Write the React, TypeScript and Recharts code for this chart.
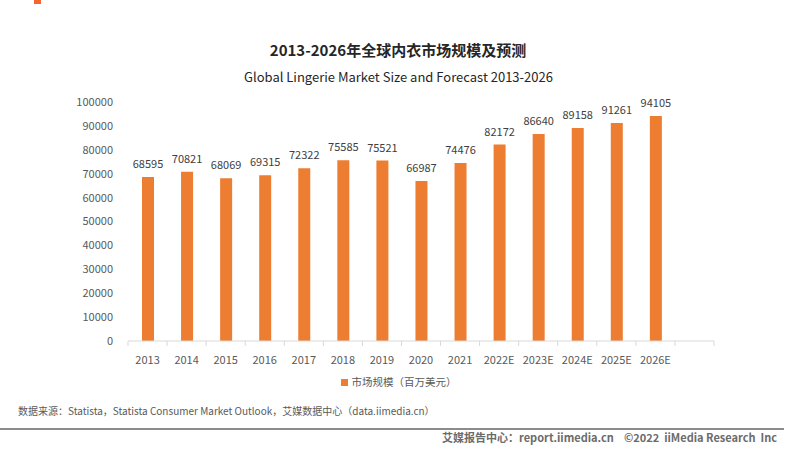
import { BarChart, Bar, XAxis, YAxis, LabelList } from 'recharts';

const YEARS = [
  '2013', '2014', '2015', '2016', '2017', '2018', '2019', '2020', '2021',
  '2022E', '2023E', '2024E', '2025E', '2026E', '',
];
const MARKET_SIZE: (number | null)[] = [
  68595, 70821, 68069, 69315, 72322, 75585, 75521, 66987, 74476,
  82172, 86640, 89158, 91261, 94105, null,
];
const Y_TICKS = [0, 10000, 20000, 30000, 40000, 50000, 60000, 70000, 80000, 90000, 100000];

const SERIES_NAME = '市场规模（百万美元）';
const BAR_COLOR = '#ED7D31';
const TEXT_GRAY = '#595959';
const FONT = '"Noto Sans CJK SC", "Noto Sans", sans-serif';

const data = YEARS.map((name, i) => ({ name, value: MARKET_SIZE[i] }));

function XTick(props: any) {
  const { x, y, payload, index } = props;
  const half = payload?.offset ?? 19.5;
  const isLast = index === YEARS.length - 1;
  return (
    <g>
      <line x1={x - half} x2={x - half} y1={y - 8} y2={y - 3} stroke="#d9d9d9" />
      {isLast && <line x1={x + half} x2={x + half} y1={y - 8} y2={y - 3} stroke="#d9d9d9" />}
      <text x={x} y={y + 15} textAnchor="middle" fontSize={11} fill={TEXT_GRAY} fontFamily={FONT}>
        {payload.value}
      </text>
    </g>
  );
}

function ValueLabel(props: any) {
  const { x, y, width, value } = props;
  if (value === null || value === undefined) return null;
  return (
    <text x={x + width / 2} y={y - 9} textAnchor="middle" fontSize={11} fill="#404040" fontFamily={FONT}>
      {value}
    </text>
  );
}

export default function App() {
  return (
    <div style={{ position: 'absolute', top: 0, left: 0, width: 793, height: 451, background: '#fff', fontFamily: FONT }}>
      <div style={{ position: 'absolute', left: 34, top: 0, width: 7, height: 4, background: '#F5652D' }} />
      <div style={{ position: 'absolute', top: 39, width: 796, textAlign: 'center', fontSize: 15, fontWeight: 'bold', color: '#262626', lineHeight: '22px' }}>
        2013-2026年全球内衣市场规模及预测
      </div>
      <div style={{ position: 'absolute', top: 67, width: 797, textAlign: 'center', fontSize: 13, color: '#262626', lineHeight: '20px' }}>
        Global Lingerie Market Size and Forecast 2013-2026
      </div>
      <BarChart
        width={793}
        height={451}
        data={data}
        margin={{ top: 102, right: 79, left: 0, bottom: 80 }}
        style={{ position: 'absolute', top: 0, left: 0 }}
      >
        <XAxis
          dataKey="name"
          height={30}
          interval={0}
          tickLine={false}
          axisLine={{ stroke: '#d9d9d9' }}
          tick={<XTick />}
        />
        <YAxis
          width={128}
          domain={[0, 100000]}
          ticks={Y_TICKS}
          interval={0}
          axisLine={false}
          tickLine={false}
          tick={{ fontSize: 11, fill: TEXT_GRAY, fontFamily: FONT }}
          tickMargin={9}
        />
        <Bar dataKey="value" name={SERIES_NAME} fill={BAR_COLOR} barSize={12} isAnimationActive={false}>
          <LabelList dataKey="value" content={<ValueLabel />} />
        </Bar>
      </BarChart>
      <div style={{ position: 'absolute', top: 374, left: 0, width: 793, display: 'flex', justifyContent: 'center', alignItems: 'center', fontSize: 10.5, color: TEXT_GRAY, lineHeight: '16px' }}>
        <span style={{ display: 'inline-block', width: 7, height: 7, background: BAR_COLOR, marginRight: 4, marginLeft: 4 }} />
        <span>{SERIES_NAME}</span>
      </div>
      <div style={{ position: 'absolute', left: 18, top: 403, fontSize: 10, color: TEXT_GRAY, lineHeight: '16px', whiteSpace: 'nowrap' }}>
        数据来源：Statista，Statista Consumer Market Outlook，艾媒数据中心（data.iimedia.cn）
      </div>
      <div style={{ position: 'absolute', left: 0, top: 428, width: 784, height: 1.5, background: '#8c8c8c' }} />
      <div style={{ position: 'absolute', right: 16, top: 429, fontSize: 11, fontWeight: 'bold', color: '#6b6b6b', lineHeight: '16px', whiteSpace: 'pre' }}>
        {'艾媒报告中心：report.iimedia.cn    ©2022  iiMedia Research  Inc'}
      </div>
    </div>
  );
}
